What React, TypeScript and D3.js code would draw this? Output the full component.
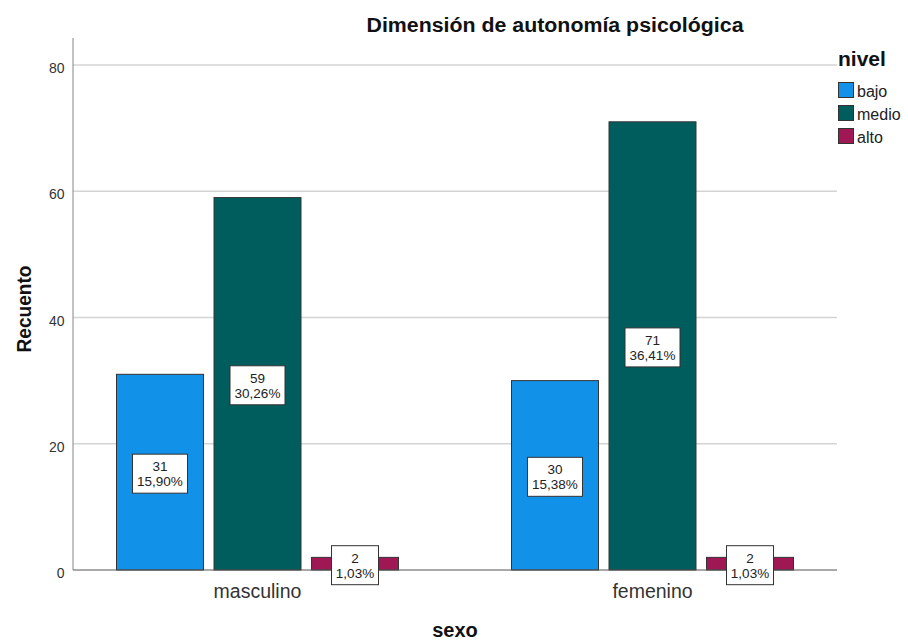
import React from "react";
import * as d3 from "d3";

const categories = ["masculino", "femenino"];
const levels = ["bajo", "medio", "alto"];
const counts: number[][] = [
  [31, 59, 2],
  [30, 71, 2],
];
const percents: string[][] = [
  ["15,90%", "30,26%", "1,03%"],
  ["15,38%", "36,41%", "1,03%"],
];
const yTicks = [0, 20, 40, 60, 80];
const colors = ["#1192e8", "#005d5d", "#9f1853"];

export default function App() {
  const W = 908, H = 641;
  const axisX = 73, plotRight = 837, plotTop = 38;
  const y = d3.scaleLinear().domain([0, 80]).range([570, 65]);
  const x0 = d3.scaleBand().domain(categories).range([60, 850]).paddingInner(0).paddingOuter(0);
  const groupW = 282;
  const x1 = d3.scaleBand().domain(levels).range([0, groupW]).paddingInner(0.108).paddingOuter(0);
  const groupOffset = (x0.bandwidth() - groupW) / 2;
  const font = "Liberation Sans, Arial, sans-serif";

  return (
    <svg width={W} height={H} style={{ position: "absolute", left: 0, top: 0 }} fontFamily={font}>
      <rect width={W} height={H} fill="#fff" />
      <text x={555} y={32} textAnchor="middle" fontSize={20} fontWeight="bold" fill="#111"
        textLength={377} lengthAdjust="spacingAndGlyphs">
        Dimensión de autonomía psicológica
      </text>
      {yTicks.filter((t) => t > 0).map((t) => (
        <line key={t} x1={axisX} x2={plotRight} y1={y(t)} y2={y(t)} stroke="#d4d4d4" strokeWidth={1.5} />
      ))}
      <line x1={axisX} x2={axisX} y1={plotTop} y2={y(0)} stroke="#999" strokeWidth={1.2} />
      {yTicks.map((t) => (
        <text key={t} x={64.5} y={y(t) + 8} textAnchor="end" fontSize={14} fill="#333">{t}</text>
      ))}
      <text transform={`translate(31,${309}) rotate(-90)`} textAnchor="middle" fontSize={21} fontWeight="bold" fill="#111"
        textLength={87} lengthAdjust="spacingAndGlyphs">
        Recuento
      </text>
      {categories.map((c, ci) => (
        <g key={c} transform={`translate(${(x0(c) as number) + groupOffset},0)`}>
          {levels.map((l, li) => {
            const bx = x1(l) as number;
            const bw = x1.bandwidth();
            const v = counts[ci][li];
            const top = y(v);
            return (
              <rect key={l} x={bx} y={top} width={bw} height={y(0) - top} fill={colors[li]} stroke="#333" strokeWidth={1} />
            );
          })}
        </g>
      ))}
      <line x1={axisX} x2={plotRight} y1={y(0)} y2={y(0)} stroke="#555" strokeWidth={1} />
      {categories.map((c, ci) => (
        <g key={c + "lbl"} transform={`translate(${(x0(c) as number) + groupOffset},0)`}>
          {levels.map((l, li) => {
            const bx = x1(l) as number;
            const cx = bx + x1.bandwidth() / 2;
            const v = counts[ci][li];
            const mid = (y(v) + y(0)) / 2 + 1.5;
            const txt = percents[ci][li];
            const bw = txt.length >= 6 ? 55 : 47;
            return (
              <g key={l}>
                <rect x={cx - bw / 2} y={mid - 19.5} width={bw} height={39} fill="#fff" stroke="#333" strokeWidth={1} />
                <text x={cx} y={mid - 2.5} textAnchor="middle" fontSize={13.5} fill="#222">{v}</text>
                <text x={cx} y={mid + 12.5} textAnchor="middle" fontSize={13.5} fill="#222">{txt}</text>
              </g>
            );
          })}
          <text x={groupW / 2} y={598} textAnchor="middle" fontSize={19.5} fill="#333">{c}</text>
        </g>
      ))}
      <text x={455} y={637} textAnchor="middle" fontSize={20} fontWeight="bold" fill="#111">sexo</text>
      <text x={838} y={66} fontSize={21} fontWeight="bold" fill="#111">nivel</text>
      {levels.map((l, i) => (
        <g key={l}>
          <rect x={838.5} y={82.5 + i * 23} width={15} height={15} fill={colors[i]} stroke="#333" strokeWidth={1} />
          <text x={857} y={97 + i * 23} fontSize={16} fill="#222">{l}</text>
        </g>
      ))}
    </svg>
  );
}
